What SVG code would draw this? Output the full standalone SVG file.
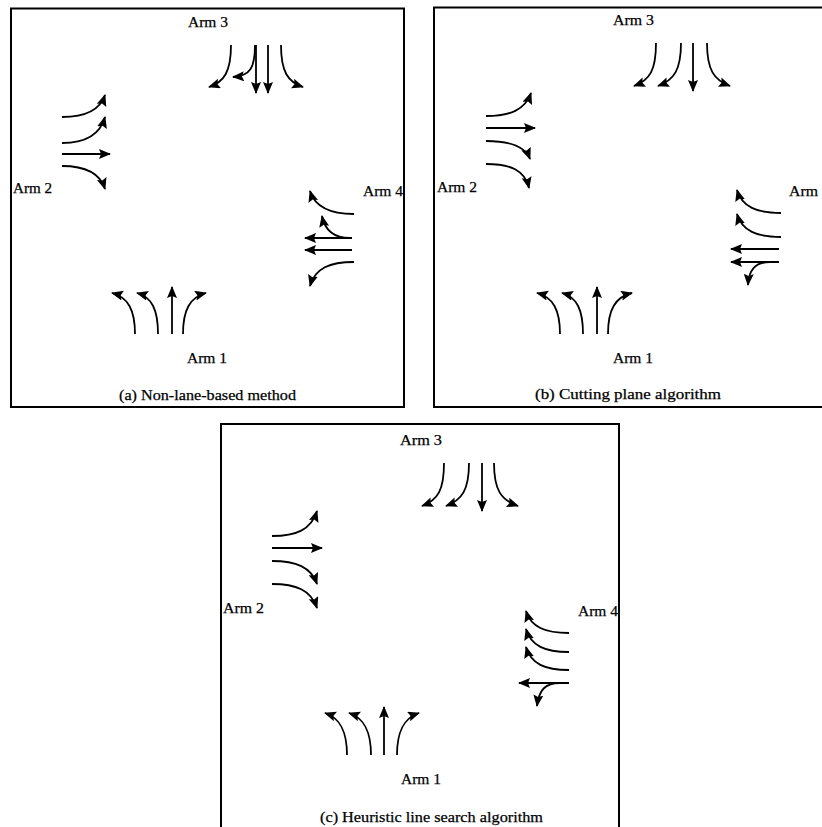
<svg xmlns="http://www.w3.org/2000/svg" width="822" height="827" viewBox="0 0 822 827">
<defs>
<marker id="ah" markerUnits="userSpaceOnUse" markerWidth="13" markerHeight="11" refX="11" refY="5" orient="auto">
<path d="M0,0 L12,5 L0,10 L2,5 z" fill="#000"/>
</marker>
<style>
.frame{fill:none;stroke:#000;stroke-width:2}
.lbl{font-family:"Liberation Serif","Times New Roman",serif;font-size:15px;fill:#000;stroke:#000;stroke-width:0.25}
.cap{font-family:"Liberation Serif","Times New Roman",serif;font-size:15px;fill:#000;stroke:#000;stroke-width:0.25}
.conn path{fill:none;stroke:#000;stroke-width:1.8;marker-end:url(#ah)}
</style>
</defs>
<rect width="822" height="827" fill="#fff"/>

<g id="panel-a">
<rect class="frame" x="11" y="8.5" width="393" height="398.5"/>
<g id="a-arm3"><text class="lbl" x="188" y="27" textLength="40" lengthAdjust="spacingAndGlyphs">Arm 3</text></g>
<g id="a-arm2"><text class="lbl" x="13" y="193" textLength="39" lengthAdjust="spacingAndGlyphs">Arm 2</text></g>
<g id="a-arm4"><text class="lbl" x="363" y="196" textLength="40" lengthAdjust="spacingAndGlyphs">Arm 4</text></g>
<g id="a-arm1"><text class="lbl" x="187" y="363" textLength="40" lengthAdjust="spacingAndGlyphs">Arm 1</text></g>
<text class="cap" x="119" y="400" textLength="177" lengthAdjust="spacingAndGlyphs">(a) Non-lane-based method</text>
<g id="a-connectors" class="conn">
<path d="M231,45 C231,72 224,82 209,87"/>
<path d="M255,45 C255,68 250,76 233,77"/>
<path d="M256,45 L256,93"/>
<path d="M268,45 L268,93"/>
<path d="M281,45 C281,72 288,82 303,87"/>
<path d="M62,117 C85,117 100,110 105,95"/>
<path d="M62,143 C85,143 100,135 105,117"/>
<path d="M62,154 L110,154"/>
<path d="M62,166 C85,166 100,173 105,189"/>
<path d="M354,214 C330,214 315,207 310,191"/>
<path d="M350,238 C334,238 325,231 322,216"/>
<path d="M352,238 L305,238"/>
<path d="M352,250 L305,250"/>
<path d="M354,262 C330,262 315,268 310,286"/>
<path d="M135,334 C135,310 128,297 112,293"/>
<path d="M158,334 C158,310 152,297 137,293"/>
<path d="M172,334 L172,287"/>
<path d="M183,334 C183,310 190,297 206,293"/>
</g>
</g>

<g id="panel-b">
<rect class="frame" x="434" y="7.5" width="400" height="399.5"/>
<g id="b-arm3"><text class="lbl" x="613" y="25" textLength="41" lengthAdjust="spacingAndGlyphs">Arm 3</text></g>
<g id="b-arm2"><text class="lbl" x="437" y="192" textLength="40" lengthAdjust="spacingAndGlyphs">Arm 2</text></g>
<g id="b-arm4"><text class="lbl" x="789" y="196" textLength="29" lengthAdjust="spacingAndGlyphs">Arm</text></g>
<g id="b-arm1"><text class="lbl" x="613" y="363" textLength="40" lengthAdjust="spacingAndGlyphs">Arm 1</text></g>
<text class="cap" x="535" y="399" textLength="186" lengthAdjust="spacingAndGlyphs">(b) Cutting plane algorithm</text>
<g id="b-connectors" class="conn">
<path d="M656,43 C656,70 650,80 634,86"/>
<path d="M681,43 C681,70 674,80 658,86"/>
<path d="M693,43 L693,91"/>
<path d="M707,43 C707,70 714,80 730,86"/>
<path d="M486,116 C510,116 525,110 531,93"/>
<path d="M486,128 L535,128"/>
<path d="M486,141 C510,141 525,146 530,159"/>
<path d="M486,164 C510,164 525,170 529,188"/>
<path d="M781,213 C757,213 742,207 737,190"/>
<path d="M781,237 C757,237 742,231 737,214"/>
<path d="M779,249 L731,249"/>
<path d="M779,262 L731,262"/>
<path d="M770,262 C755,262 749,270 748,285"/>
<path d="M560,334 C560,310 553,297 537,293"/>
<path d="M583,334 C583,310 577,297 562,293"/>
<path d="M597,334 L597,287"/>
<path d="M608,334 C608,310 615,297 632,293"/>
</g>
</g>

<g id="panel-c">
<rect class="frame" x="221" y="424" width="398" height="410"/>
<g id="c-arm3"><text class="lbl" x="400" y="445" textLength="42" lengthAdjust="spacingAndGlyphs">Arm 3</text></g>
<g id="c-arm2"><text class="lbl" x="223" y="613" textLength="41" lengthAdjust="spacingAndGlyphs">Arm 2</text></g>
<g id="c-arm4"><text class="lbl" x="578" y="616" textLength="40" lengthAdjust="spacingAndGlyphs">Arm 4</text></g>
<g id="c-arm1"><text class="lbl" x="401" y="784" textLength="40" lengthAdjust="spacingAndGlyphs">Arm 1</text></g>
<text class="cap" x="320" y="822" textLength="223" lengthAdjust="spacingAndGlyphs">(c) Heuristic line search algorithm</text>
<g id="c-connectors" class="conn">
<path d="M444,463 C444,490 438,500 422,506"/>
<path d="M469,463 C469,490 462,500 446,506"/>
<path d="M482,463 L482,511"/>
<path d="M494,463 C494,490 501,500 518,506"/>
<path d="M272,536 C296,536 311,530 317,511"/>
<path d="M272,548 L322,548"/>
<path d="M272,561 C296,561 311,567 317,584"/>
<path d="M272,584 C296,584 311,590 317,608"/>
<path d="M569,633 C545,633 531,627 526,611"/>
<path d="M569,652 C545,652 531,646 526,629"/>
<path d="M569,670 C545,670 531,664 526,647"/>
<path d="M569,683 L519,683"/>
<path d="M560,683 C545,683 539,690 537,706"/>
<path d="M347,755 C347,731 340,718 325,713"/>
<path d="M371,755 C371,731 364,718 349,713"/>
<path d="M384,755 L384,707"/>
<path d="M397,755 C397,731 404,718 419,713"/>
</g>
</g>
</svg>
